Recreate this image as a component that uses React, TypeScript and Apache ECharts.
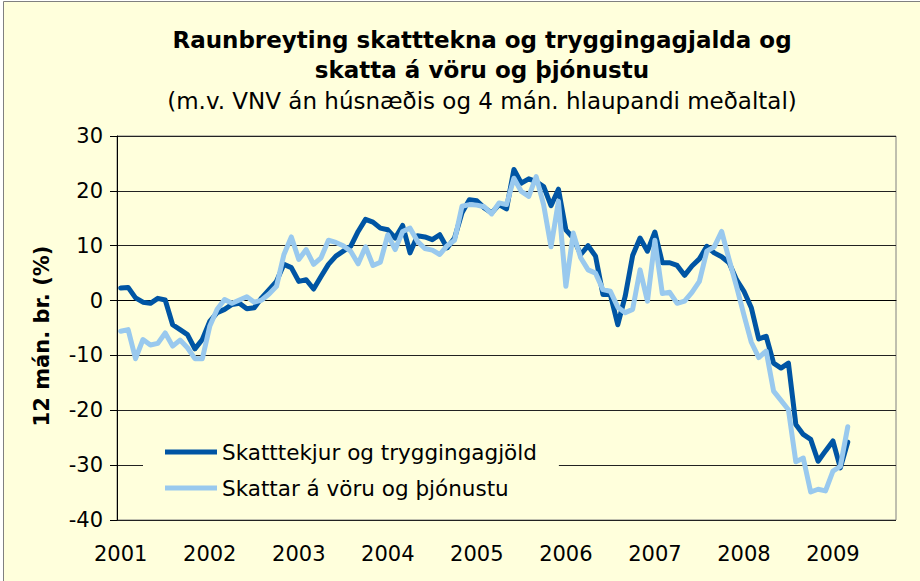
import React, { useEffect, useRef } from "react";
import * as echarts from "echarts";

const YEARS = ["2001", "2002", "2003", "2004", "2005", "2006", "2007", "2008", "2009"];
const N_CATEGORIES = 105; // Jan 2001 .. Sep 2009

const SERIES_DARK_NAME = "Skatttekjur og tryggingagjöld";
const SERIES_LIGHT_NAME = "Skattar á vöru og þjónustu";

const darkValues = [
  2.3, 2.4, 0.5, -0.3, -0.5, 0.4, 0.1, -4.4, -5.3, -6.2, -8.8, -7.1,
  -3.8, -2.2, -1.6, -0.7, -0.5, -1.5, -1.3, 0.5, 2.0, 3.5, 6.6, 6.0,
  3.5, 3.8, 2.1, 4.4, 6.6, 8.1, 9.0, 9.9, 12.6, 14.8, 14.3, 13.2,
  12.9, 11.4, 13.7, 8.7, 11.8, 11.6, 11.1, 12.0, 9.6, 11.4, 16.0, 18.4,
  18.2, 16.9, 16.0, 17.5, 16.7, 23.9, 21.4, 22.2, 21.7, 20.8, 17.3, 20.3,
  12.9, 11.4, 8.4, 10.0, 8.1, 1.1, 1.1, -4.4, 0.8, 8.2, 11.4, 9.0,
  12.5, 6.9, 6.9, 6.4, 4.6, 6.3, 7.6, 9.9, 8.7, 8.0, 6.9, 3.8,
  1.7, -1.3, -7.0, -6.5, -11.4, -12.3, -11.4, -22.6, -24.4, -25.3, -29.3, -27.4,
  -25.6, -30.5, -25.8,
];

const lightValues = [
  -5.6, -5.3, -10.6, -7.1, -8.1, -7.8, -5.9, -8.3, -7.2, -8.6, -10.6, -10.6,
  -4.7, -1.6, 0.2, -0.5, 0.1, 0.7, -0.3, 0.1, 1.2, 2.6, 8.4, 11.6,
  7.5, 9.3, 6.6, 7.8, 11.0, 10.6, 10.0, 9.0, 6.7, 9.8, 6.4, 7.0,
  12.0, 9.3, 12.6, 13.2, 10.8, 9.5, 9.2, 8.4, 10.0, 11.0, 17.2, 17.5,
  17.4, 17.1, 15.8, 17.8, 17.5, 22.3, 19.9, 19.0, 22.6, 17.5, 9.8, 18.1,
  2.6, 12.3, 7.8, 5.6, 5.0, 2.0, 1.7, -1.2, -2.2, -1.6, 5.6, -0.1,
  11.0, 1.3, 1.5, -0.5, -0.1, 1.5, 3.5, 9.0, 9.8, 12.6, 7.5, 2.6,
  -2.6, -7.6, -10.4, -9.2, -16.5, -18.2, -19.9, -29.4, -28.7, -34.9, -34.4, -34.7,
  -31.1, -30.2, -23.0,
];

const TITLE_LINES = [
  "Raunbreyting skatttekna og tryggingagjalda og",
  "skatta á vöru og þjónustu",
];
const SUBTITLE = "(m.v. VNV án húsnæðis og 4 mán. hlaupandi meðaltal)";
const Y_NAME = "12 mán. br. (%)";

const FONT = '"DejaVu Sans", Verdana, sans-serif';
const BG = "#ffffdc";
const DARK = "#0055a4";
const LIGHT = "#99c9ee";

export default function App() {
  const ref = useRef<HTMLDivElement>(null);

  useEffect(() => {
    if (!ref.current) return;
    const chart = echarts.init(ref.current, null, { renderer: "svg" });

    const categories: string[] = [];
    YEARS.forEach((y) => {
      for (let m = 1; m <= 12; m++) categories.push(`${y}-${m}`);
    });
    const cats = categories.slice(0, N_CATEGORIES);

    chart.setOption({
      animation: false,
      backgroundColor: BG,
      grid: {
        left: 117,
        right: 24,
        top: 136,
        bottom: 61,
        show: true,
        backgroundColor: BG,
        borderColor: "#808080",
        borderWidth: 1,
      },
      legend: {
        orient: "vertical",
        left: 143,
        top: 428,
        padding: [12, 22, 12, 22],
        icon: "rect",
        itemWidth: 52,
        itemHeight: 5,
        itemGap: 12,
        backgroundColor: BG,
        textStyle: { fontSize: 21.5, fontFamily: FONT, color: "#000", lineHeight: 24 },
        data: [SERIES_DARK_NAME, SERIES_LIGHT_NAME],
      },
      xAxis: {
        type: "category",
        data: cats,
        boundaryGap: true,
        axisLine: { lineStyle: { color: "#000", width: 1 } },
        axisTick: { show: false },
        axisLabel: {
          interval: 11,
          formatter: (v: string) => v.slice(0, 4),
          fontSize: 21,
          fontFamily: FONT,
          color: "#000",
          margin: 23,
        },
        splitLine: { show: false },
      },
      yAxis: {
        type: "value",
        min: -40,
        max: 30,
        interval: 10,
        axisLine: { show: true, lineStyle: { color: "#000", width: 1 } },
        axisTick: { show: true, length: 7, lineStyle: { color: "#000" } },
        axisLabel: { fontSize: 21, fontFamily: FONT, color: "#000", margin: 14 },
        splitLine: { show: true, lineStyle: { color: "#222", width: 1 } },
      },
      series: [
        {
          name: SERIES_DARK_NAME,
          type: "line",
          data: darkValues,
          symbol: "none",
          lineStyle: { color: DARK, width: 5, join: "round", cap: "round" },
          itemStyle: { color: DARK },
        },
        {
          name: SERIES_LIGHT_NAME,
          type: "line",
          data: lightValues,
          symbol: "none",
          lineStyle: { color: LIGHT, width: 5, join: "round", cap: "round" },
          itemStyle: { color: LIGHT },
        },
      ],
      graphic: [
        {
          type: "text",
          x: 482,
          y: 40,
          style: {
            text: TITLE_LINES[0],
            fontSize: 23,
            fontWeight: "bold",
            fontFamily: FONT,
            fill: "#000",
            align: "center",
            verticalAlign: "middle",
          },
        },
        {
          type: "text",
          x: 482,
          y: 70,
          style: {
            text: TITLE_LINES[1],
            fontSize: 23,
            fontWeight: "bold",
            fontFamily: FONT,
            fill: "#000",
            align: "center",
            verticalAlign: "middle",
          },
        },
        {
          type: "text",
          x: 482,
          y: 101,
          style: {
            text: SUBTITLE,
            fontSize: 23,
            fontFamily: FONT,
            fill: "#000",
            align: "center",
            verticalAlign: "middle",
          },
        },
        {
          type: "text",
          x: 42,
          y: 336,
          rotation: Math.PI / 2,
          style: {
            text: Y_NAME,
            fontSize: 21,
            fontWeight: "bold",
            fontFamily: FONT,
            fill: "#000",
            align: "center",
            verticalAlign: "middle",
          },
        },
        {
          type: "rect",
          z: 100,
          shape: { x: 0, y: 0, width: 3, height: 581 },
          style: { fill: "#ffffff" },
        },
        {
          type: "rect",
          z: 100,
          shape: { x: 0, y: 0, width: 920, height: 1 },
          style: { fill: "#ffffff" },
        },
        {
          type: "line",
          z: 100,
          shape: { x1: 3.5, y1: 1.5, x2: 3.5, y2: 581 },
          style: { stroke: "#808080", lineWidth: 1 },
        },
        {
          type: "line",
          z: 100,
          shape: { x1: 3.5, y1: 1.5, x2: 920, y2: 1.5 },
          style: { stroke: "#808080", lineWidth: 1 },
        },
      ],
    });

    return () => chart.dispose();
  }, []);

  return (
    <div
      ref={ref}
      style={{ position: "absolute", left: 0, top: 0, width: 920, height: 581, background: "#fff" }}
    />
  );
}
